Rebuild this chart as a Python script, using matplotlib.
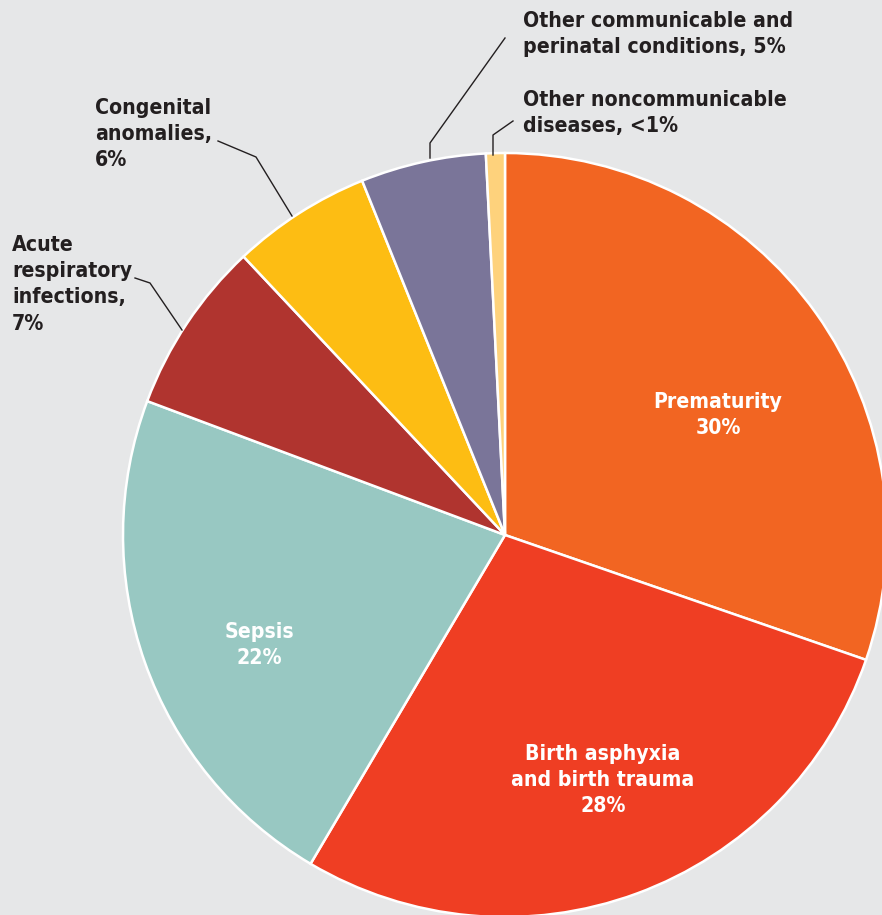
import matplotlib
matplotlib.use("Agg")
import matplotlib.pyplot as plt

# causes of neonatal death (shares)
causes = ["Prematurity", "Birth asphyxia and birth trauma", "Sepsis",
          "Acute respiratory infections", "Congenital anomalies",
          "Other communicable and perinatal conditions",
          "Other noncommunicable diseases"]
shares = [30.3, 28.2, 22.2, 7.3, 5.9, 5.3, 0.8]
colors = ["#f26522", "#ef3e23", "#98c8c2", "#b0342f", "#fdbd13", "#7a7599", "#fed27c"]

inner_labels = ["Prematurity\n30%", "Birth asphyxia\nand birth trauma\n28%", "Sepsis\n22%"]
outer_labels = ["Acute\nrespiratory\ninfections,\n7%", "Congenital\nanomalies,\n6%",
                "Other communicable and\nperinatal conditions, 5%",
                "Other noncommunicable\ndiseases, <1%"]

BG = "#e6e7e8"
FONT = ["DejaVu Sans"]
FS = 15.2
LS = 1.39

fig = plt.figure(figsize=(8.82, 9.15), dpi=100, facecolor=BG)
ax = fig.add_axes([0, 0, 1, 1])
ax.set_facecolor(BG)

# work in pixel coordinates, y pointing down
cx, cy, r = 505, 535, 382
wedges, _ = ax.pie(shares, colors=colors, center=(cx, cy), radius=r,
                   startangle=-90, counterclock=True,
                   wedgeprops=dict(edgecolor="white", linewidth=1.8))
ax.set_xlim(0, 882)
ax.set_ylim(915, 0)
ax.set_aspect("equal")
ax.axis("off")

# labels inside the big wedges
inner_pos = [(718, 415), (603, 780), (259, 645)]
for txt, (x, y) in zip(inner_labels, inner_pos):
    ax.text(x, y, txt, color="white", fontsize=FS, fontweight="bold", family=FONT,
            fontstretch="condensed", ha="center", va="center", linespacing=LS)

# outside labels with leader lines
outer_pos = [(12, 235), (95, 98), (523, 11), (523, 90)]
leaders = [
    [(135, 278), (150, 283), (182, 330)],
    [(218, 141), (256, 157), (292, 216)],
    [(505, 38), (430, 143), (430, 158)],
    [(513, 121), (493, 135), (493, 155)],
]
for txt, (x, y) in zip(outer_labels, outer_pos):
    ax.text(x, y, txt, color="#231f20", fontsize=FS, fontweight="bold", family=FONT,
            fontstretch="condensed", ha="left", va="top", linespacing=LS)
for pts in leaders:
    xs = [p[0] for p in pts]
    ys = [p[1] for p in pts]
    ax.plot(xs, ys, color="#231f20", lw=1.0)

fig.savefig("out.png", dpi=100, facecolor=BG)
